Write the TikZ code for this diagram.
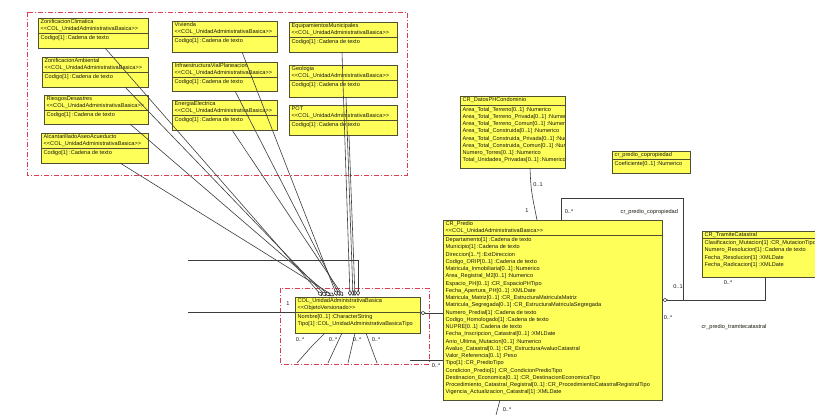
\documentclass[tikz,border=0pt]{standalone}
\usepackage{fontspec}
\setmainfont{Liberation Sans}
\usetikzlibrary{calc,arrows.meta,shadows}

\definecolor{boxfill}{RGB}{255,255,90}
\definecolor{boxedge}{RGB}{80,80,50}
\definecolor{framered}{RGB}{224,60,80}
\definecolor{wire}{RGB}{60,60,60}
\definecolor{ink}{RGB}{25,25,15}

\newcommand\umlfont{\fontsize{5.6}{7.25}\selectfont}

\tikzset{
  classbox/.style={draw=boxedge, line width=0.9pt, fill=boxfill, anchor=north west,
    inner sep=0pt, outer sep=0pt, drop shadow={shadow xshift=1pt, shadow yshift=-1pt, fill=black!35}},
  classrule/.style={draw=boxedge, line width=0.7pt},
  textblock/.style={anchor=north west, align=left, inner sep=0pt, font=\umlfont, text=ink},
  wirestyle/.style={draw=wire, line width=0.6pt},
  aggr/.style={wirestyle, -{Diamond[open, length=6pt, width=4pt]}},
  aggrstart/.style={wirestyle, {Diamond[open, length=6pt, width=4pt]}-},
  mult/.style={font=\umlfont, text=ink, inner sep=0.5pt},
  pkgframe/.style={draw=framered, line width=0.8pt, dash pattern=on 5pt off 2pt on 1pt off 2pt},
}

% id, x, y, width, height, rule offset, header lines, attribute lines
% (compartment text is clipped to the class outline)
\newcommand\umlclass[8]{%
  \node[classbox, minimum width=#4, minimum height=#5] (#1) at (#2,#3) {};
  \draw[classrule] ($(#1.north west)+(0,#6)$) -- ($(#1.north east)+(0,#6)$);
  \begin{scope}
    \clip ($(#1.north west)+(0.5,0.5)$) rectangle ($(#1.south east)+(-0.8,-0.5)$);
    \node[textblock] (#1-head) at ($(#1.north west)+(2.5,1.2)$) {#7};
    \node[textblock] (#1-attr) at ($(#1.north west)+(2.5,#6+1.8)$) {#8};
  \end{scope}
}
\newcommand\uabstereo{<{}<COL\_UnidadAdministrativaBasica>{}>}

\begin{document}
\begin{tikzpicture}[x=1pt, y=-1pt]
\useasboundingbox (0,0) rectangle (815,415);
\fill[white] (0,0) rectangle (815,415);
\clip (0,0) rectangle (815,415);

% package frames
\draw[pkgframe] (27,12) rectangle (407,175);
\draw[pkgframe] (280,288) rectangle (429,364);

% thematic classes
\umlclass{zc}{38}{18}{110}{30}{15.5}{ZonificacionClimatica\\\uabstereo}{Codigo[1] :Cadena de texto}
\umlclass{za}{42}{57}{106}{30}{15.5}{ZonificacionAmbiental\\\uabstereo}{Codigo[1] :Cadena de texto}
\umlclass{rd}{44}{95}{104}{29}{15.5}{RiesgosDesastres\\\uabstereo}{Codigo[1] :Cadena de texto}
\umlclass{aa}{41}{133}{107}{30}{15.5}{AlcantarilladoAseoAcueducto\\\uabstereo}{Codigo[1] :Cadena de texto}
\umlclass{vi}{172}{21}{105}{31}{15.5}{Vivienda\\\uabstereo}{Codigo[1] :Cadena de texto}
\umlclass{ip}{172}{62}{105}{29}{15.5}{InfraestructuraVialPlaneacion\\\uabstereo}{Codigo[1] :Cadena de texto}
\umlclass{ee}{172}{100}{105}{30}{15.5}{EnergiaElectrica\\\uabstereo}{Codigo[1] :Cadena de texto}
\umlclass{em}{289}{22}{108}{30}{15.5}{EquipamientosMunicipales\\\uabstereo}{Codigo[1] :Cadena de texto}
\umlclass{ge}{289}{65}{108}{32}{15.5}{Geologia\\\uabstereo}{Codigo[1] :Cadena de texto}
\umlclass{po}{289}{105}{108}{30}{15.5}{POT\\\uabstereo}{Codigo[1] :Cadena de texto}

% basic administrative unit
\umlclass{cu}{295}{297}{125}{36}{15.5}{COL\_UnidadAdministrativaBasica\\<{}<ObjetoVersionado>{}>}{Nombre[0..1] :CharacterString\\Tipo[1] :COL\_UnidadAdministrativaBasicaTipo}

% cadastral classes
\umlclass{dph}{460}{96}{105}{72}{9}{CR\_DatosPHCondominio}{%
Area\_Total\_Terreno[0..1] :Numerico\\
Area\_Total\_Terreno\_Privada[0..1] :Numerico\\
Area\_Total\_Terreno\_Comun[0..1] :Numerico\\
Area\_Total\_Construida[0..1] :Numerico\\
Area\_Total\_Construida\_Privada[0..1] :Numerico\\
Area\_Total\_Construida\_Comun[0..1] :Numerico\\
Numero\_Torres[0..1] :Numerico\\
Total\_Unidades\_Privadas[0..1] :Numerico}

\umlclass{cop}{612}{151}{78}{22}{8}{cr\_predio\_copropiedad}{Coeficiente[0..1] :Numerico}

\umlclass{tra}{702}{231}{115}{46}{7.5}{CR\_TramiteCatastral}{%
Clasificacion\_Mutacion[1] :CR\_MutacionTipo\\
Numero\_Resolucion[1] :Cadena de texto\\
Fecha\_Resolucion[1] :XMLDate\\
Fecha\_Radicacion[1] :XMLDate}

\umlclass{pre}{443}{220}{219}{180}{15.5}{CR\_Predio\\\uabstereo}{%
Departamento[1] :Cadena de texto\\
Municipio[1] :Cadena de texto\\
Direccion[1..*] :ExtDireccion\\
Codigo\_ORIP[0..1] :Cadena de texto\\
Matricula\_Inmobiliaria[0..1] :Numerico\\
Area\_Registral\_M2[0..1] :Numerico\\
Espacio\_PH[0..1] :CR\_EspacioPHTipo\\
Fecha\_Apertura\_PH[0..1] :XMLDate\\
Matricula\_Matriz[0..1] :CR\_EstructuraMatriculaMatriz\\
Matricula\_Segregada[0..1] :CR\_EstructuraMatriculaSegregada\\
Numero\_Predial[1] :Cadena de texto\\
Codigo\_Homologado[1] :Cadena de texto\\
NUPRE[0..1] :Cadena de texto\\
Fecha\_Inscripcion\_Catastral[0..1] :XMLDate\\
Anio\_Ultima\_Mutacion[0..1] :Numerico\\
Avaluo\_Catastral[0..1] :CR\_EstructuraAvaluoCatastral\\
Valor\_Referencia[0..1] :Peso\\
Tipo[1] :CR\_PredioTipo\\
Condicion\_Predio[1] :CR\_CondicionPredioTipo\\
Destinacion\_Economica[0..1] :CR\_DestinacionEconomicaTipo\\
Procedimiento\_Catastral\_Registral[0..1] :CR\_ProcedimientoCatastralRegistralTipo\\
Vigencia\_Actualizacion\_Catastral[1] :XMLDate}

% aggregation end points on the basic unit
\coordinate (d1) at (322,296);
\coordinate (d2) at (326,296);
\coordinate (d3) at (330,296);
\coordinate (d4) at (334,296);
\coordinate (d5) at (337,296);
\coordinate (d6) at (340,296);
\coordinate (d7) at (343,296);
\coordinate (d8) at (350,296);
\coordinate (d9) at (353,296);
\coordinate (d10) at (355,296);
\coordinate (d11) at (358,296);

\draw[aggr] ($(zc.south west)+(67,0)$) -- (d1);
\draw[aggr] ($(za.south west)+(83,0)$) -- (d2);
\draw[aggr] ($(rd.south west)+(86,0)$) -- (d3);
\draw[aggr] ($(aa.south west)+(79,0)$) -- (d4);
\draw[aggr] ($(vi.south west)+(70,0)$) -- (d5);
\draw[aggr] ($(ip.south west)+(63,0)$) -- (d6);
\draw[aggr] ($(ee.south west)+(60,0)$) -- (d7);
\draw[aggr] ($(em.south west)+(53,0)$) -- (d8);
\draw[aggr] ($(ge.south west)+(57,0)$) -- (d9);
\draw[aggr] ($(po.south west)+(60,0)$) -- (d10);

% connectors entering from the left
\coordinate (xa) at (188,260);
\coordinate (xb) at (188,312);
\draw[aggr] (xa) -| (d11);
\draw[wirestyle] (xb) -- (xb -| cu.west);
\node[mult] (m-one) at (288,304) {1};

% connectors leaving the basic unit downwards
\coordinate (f1) at (297,363);
\coordinate (f2) at (328,363);
\coordinate (f3) at (348,363);
\coordinate (f4) at (377,363);
\draw[wirestyle] ($(cu.south west)+(30,0)$) -- (312,346) -- (f1);
\draw[wirestyle] ($(cu.south west)+(47,0)$) -- (f2);
\draw[wirestyle] ($(cu.south west)+(60,0)$) -- (f3);
\draw[wirestyle] ($(cu.south west)+(71,0)$) -- (f4);
\node[mult] (m-b1) at (300,340) {0..*};
\node[mult] (m-b2) at (333,340) {0..*};
\node[mult] (m-b3) at (357,340) {0..*};
\node[mult] (m-b4) at (376,340) {0..*};

% basic unit to parcel
\coordinate (y313) at (0,313);
\draw[aggrstart] (y313 -| cu.east) -- (y313 -| pre.west);
\coordinate (fb) at (410,360);
\draw[wirestyle] (fb) -- (fb -| pre.west);
\node[mult] (m-fb) at (436,366) {0..*};

% parcel downwards
\coordinate (pb) at (496,415);
\draw[wirestyle] ($(pre.south west)+(57,0)$) -- (pb);
\node[mult] (m-pb) at (507,410) {0..*};

% condominium data to parcel
\draw[wirestyle] ($(dph.south west)+(70,0)$) .. controls (531,190) .. ($(pre.north west)+(94,0)$);
\node[mult] (m-dph) at (538,185) {0..1};
\node[mult] (m-pre1) at (527,211) {1};

% co-ownership association
\coordinate (cp1) at (561,198);
\coordinate (cp2) at (683,198);
\coordinate (jn) at (683,300);
\coordinate (tx) at (765,300);
\draw[wirestyle] (cp1 |- pre.north) -- (cp1) -- (cp2) -- (jn);
\draw[wirestyle, dash pattern=on 1pt off 1.2pt] ($(cop.south west)+(11,0)$) -- ($(cop.south west)+(11,0)$ |- cp1);
\node[mult] (m-cp) at (569,212) {0..*};
\node[mult, anchor=west] (l-cp) at (620,212) {cr\_predio\_copropiedad};
\node[mult] (m-cp2) at (678,287) {0..1};

% cadastral procedure association
\draw[aggrstart] (jn -| pre.east) -- (tx) -- (tx |- tra.south);
\node[mult] (m-tr1) at (668,318) {0..*};
\node[mult] (m-tr2) at (728,283) {0..*};
\node[mult] (l-tr) at (734,327) {cr\_predio\_tramitecatastral};

\end{tikzpicture}
\end{document}
